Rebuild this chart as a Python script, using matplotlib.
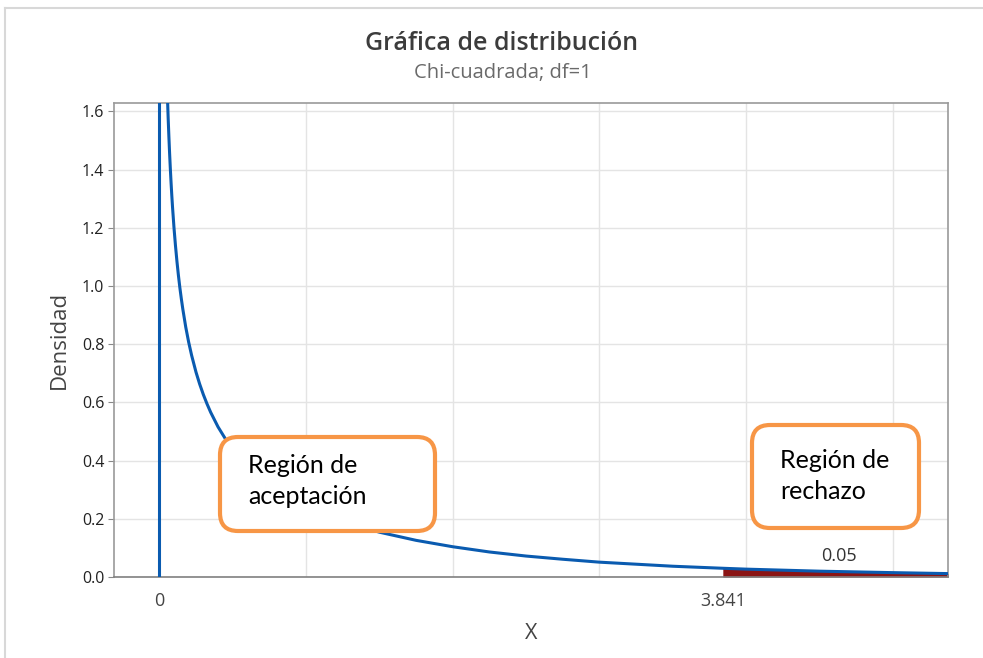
import numpy as np
import matplotlib
matplotlib.use("Agg")
import matplotlib.pyplot as plt
from matplotlib.patches import FancyBboxPatch
from matplotlib.lines import Line2D

# density values (chi-square, df=1)
x_vals = [0.04, 0.05, 0.055, 0.06, 0.065, 0.07, 0.075, 0.08, 0.085, 0.09,
          0.10, 0.11, 0.12, 0.13, 0.14, 0.15, 0.16, 0.18, 0.20, 0.22, 0.25,
          0.275, 0.30, 0.325, 0.35, 0.40, 0.45, 0.50, 0.55, 0.60, 0.65, 0.70,
          0.75, 0.80, 0.90, 1.00, 1.10, 1.25, 1.50, 1.75, 2.00, 2.25, 2.50,
          2.75, 3.00, 3.50, 3.841, 4.00, 4.50, 5.00, 5.40]
dens = [1.955, 1.740, 1.655, 1.580, 1.515, 1.456, 1.403, 1.355, 1.311, 1.271,
        1.200, 1.139, 1.085, 1.037, 0.994, 0.956, 0.921, 0.859, 0.807, 0.762,
        0.704, 0.663, 0.627, 0.595, 0.566, 0.516, 0.475, 0.439, 0.409, 0.382,
        0.358, 0.336, 0.317, 0.299, 0.268, 0.242, 0.220, 0.191, 0.154, 0.126,
        0.104, 0.086, 0.072, 0.061, 0.051, 0.037, 0.030, 0.027, 0.020, 0.015,
        0.0115]
crit = 3.841
alpha_txt = "0.05"
y_ticks = [0.0, 0.2, 0.4, 0.6, 0.8, 1.0, 1.2, 1.4, 1.6]
x_grid = [1, 2, 3, 4, 5]

blue = "#0a5bb0"
orange = "#f79646"
font = ["Open Sans", "DejaVu Sans"]

fig = plt.figure(figsize=(9.83, 6.58), dpi=100)
ax = fig.add_axes([114/983, 1 - 577/658, (948-114)/983, (577-103)/658])

x = np.array(x_vals)
y = np.array(dens)
ax.plot(x, y, color=blue, lw=2.2, zorder=3)
ax.plot([0, 0], [0, 2], color=blue, lw=2.2, zorder=3)
mask = x >= crit
ax.fill_between(x[mask], 0, y[mask], color="#8b1414", lw=0, zorder=2)

ax.set_xlim(-0.309, 5.376)
ax.set_ylim(0, 1.629)
ax.set_xticks([0, crit])
ax.set_xticklabels(["0", "3.841"])
ax.set_xticks(x_grid, minor=True)
ax.set_yticks(y_ticks)
ax.set_yticklabels(["%.1f" % v for v in y_ticks])
ax.grid(True, which="minor", axis="x", color="#e4e4e4", lw=1)
ax.grid(True, which="major", axis="y", color="#e4e4e4", lw=1)
ax.set_axisbelow(True)
ax.tick_params(axis="x", which="both", length=0, pad=11, labelsize=13,
               labelcolor="#444444")
ax.tick_params(axis="y", length=4, color="#888888", pad=3, labelsize=11.5,
               labelcolor="#222222")
for lab in ax.get_xticklabels() + ax.get_yticklabels():
    lab.set_family(font)
for s in ax.spines.values():
    s.set_color("#9a9a9a")
    s.set_linewidth(1.2)
ax.spines["bottom"].set_color("#808080")

ax.set_xlabel("X", fontsize=15.5, color="#444444", family=font, labelpad=9)
ax.set_ylabel("Densidad", fontsize=16, color="#444444", family=font, labelpad=9)

fig.text(502/983, 1 - 43/658, "Gráfica de distribución", ha="center", va="center",
         fontsize=18, color="#3c3c3c", family=font, weight="semibold")
fig.text(503/983, 1 - 73/658, "Chi-cuadrada; df=1", ha="center", va="center",
         fontsize=14.5, color="#6a6a6a", family=font)
ax.text(839/983, 1 - 556/658, alpha_txt, transform=fig.transFigure, ha="center",
        va="center", fontsize=13, color="#333333", family=font)

# screenshot frame
fig.add_artist(Line2D([5/983, 1], [1 - 8/658, 1 - 8/658], color="#d8d8d8",
                      lw=1.5, transform=fig.transFigure))
fig.add_artist(Line2D([5/983, 5/983], [0, 1 - 8/658], color="#d8d8d8",
                      lw=1.5, transform=fig.transFigure))

# annotation boxes (inches)
boxes = [(2.20, 1.27, 2.15, 0.94, "Región de\naceptación", 2.48, 1.77),
         (7.52, 1.30, 1.67, 1.03, "Región de\nrechazo", 7.80, 1.82)]
for bx, by, bw, bh, txt, tx, ty in boxes:
    r = 0.18
    p = FancyBboxPatch((bx + r, by + r), bw - 2*r, bh - 2*r,
                       boxstyle="round,pad=%.2f" % r, transform=fig.dpi_scale_trans,
                       fc="white", ec=orange, lw=3, zorder=5)
    fig.add_artist(p)
    fig.text(tx/9.83, ty/6.58, txt, ha="left", va="center", fontsize=18,
             color="black", family=["Lato", "DejaVu Sans"], linespacing=1.38,
             zorder=6)

fig.savefig("out.png", dpi=100)
